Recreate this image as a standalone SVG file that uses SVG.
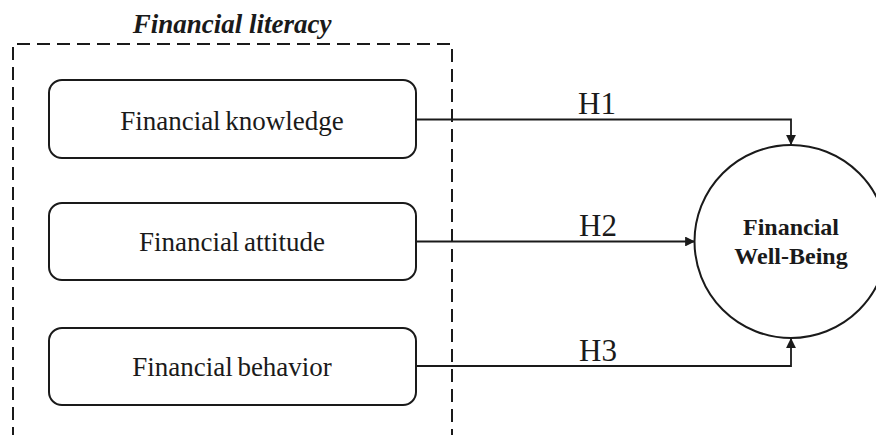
<svg xmlns="http://www.w3.org/2000/svg" width="876" height="435" viewBox="0 0 876 435">
<style>
.box{fill:#fff;stroke:#1a1a1a;stroke-width:2}
.lbl{font-family:"Liberation Serif","Times New Roman",serif;font-size:27px;fill:#1a1a1a;text-anchor:middle;word-spacing:-2px}
.h{font-family:"Liberation Serif","Times New Roman",serif;font-size:31px;fill:#1a1a1a;text-anchor:middle}
.conn{fill:none;stroke:#1a1a1a;stroke-width:1.8}
</style>
<defs>
<marker id="arr" viewBox="0 0 10 10" refX="10" refY="5" markerWidth="5.5" markerHeight="5.5" orient="auto-start-reverse" markerUnits="strokeWidth">
<path d="M0,0 L10,5 L0,10 z" fill="#1a1a1a"/>
</marker>
</defs>
<rect width="876" height="435" fill="#fff"/>
<g id="group-financial-literacy">
<path d="M13,440 L13,44 L452,44 L452,440" fill="none" stroke="#1a1a1a" stroke-width="2" stroke-dasharray="13,7"/>
<text x="232" y="33" font-family="Liberation Serif,'Times New Roman',serif" font-size="27" font-weight="bold" font-style="italic" fill="#1a1a1a" text-anchor="middle">Financial literacy</text>
</g>
<g id="connectors">
<path class="conn" d="M416,119.5 L791,119.5 L791,145" marker-end="url(#arr)"/>
<path class="conn" d="M416,241.5 L695,241.5" marker-end="url(#arr)"/>
<path class="conn" d="M416,366 L791,366 L791,338" marker-end="url(#arr)"/>
<text class="h" x="597" y="114">H1</text>
<text class="h" x="598" y="236">H2</text>
<text class="h" x="598" y="361">H3</text>
</g>
<g id="node-knowledge">
<rect class="box" x="49" y="80" width="367" height="78" rx="13"/>
<text class="lbl" x="232" y="130">Financial knowledge</text>
</g>
<g id="node-attitude">
<rect class="box" x="49" y="203" width="367" height="77" rx="13"/>
<text class="lbl" x="232" y="251">Financial attitude</text>
</g>
<g id="node-behavior">
<rect class="box" x="49" y="328" width="367" height="77" rx="13"/>
<text class="lbl" x="232" y="376">Financial behavior</text>
</g>
<g id="node-wellbeing">
<circle cx="791" cy="241.5" r="96.5" fill="#fff" stroke="#1a1a1a" stroke-width="2"/>
<text x="791" y="235" font-family="Liberation Serif,'Times New Roman',serif" font-size="24" font-weight="bold" fill="#1a1a1a" text-anchor="middle">Financial</text>
<text x="791" y="264" font-family="Liberation Serif,'Times New Roman',serif" font-size="24" font-weight="bold" fill="#1a1a1a" text-anchor="middle">Well-Being</text>
</g>
</svg>
